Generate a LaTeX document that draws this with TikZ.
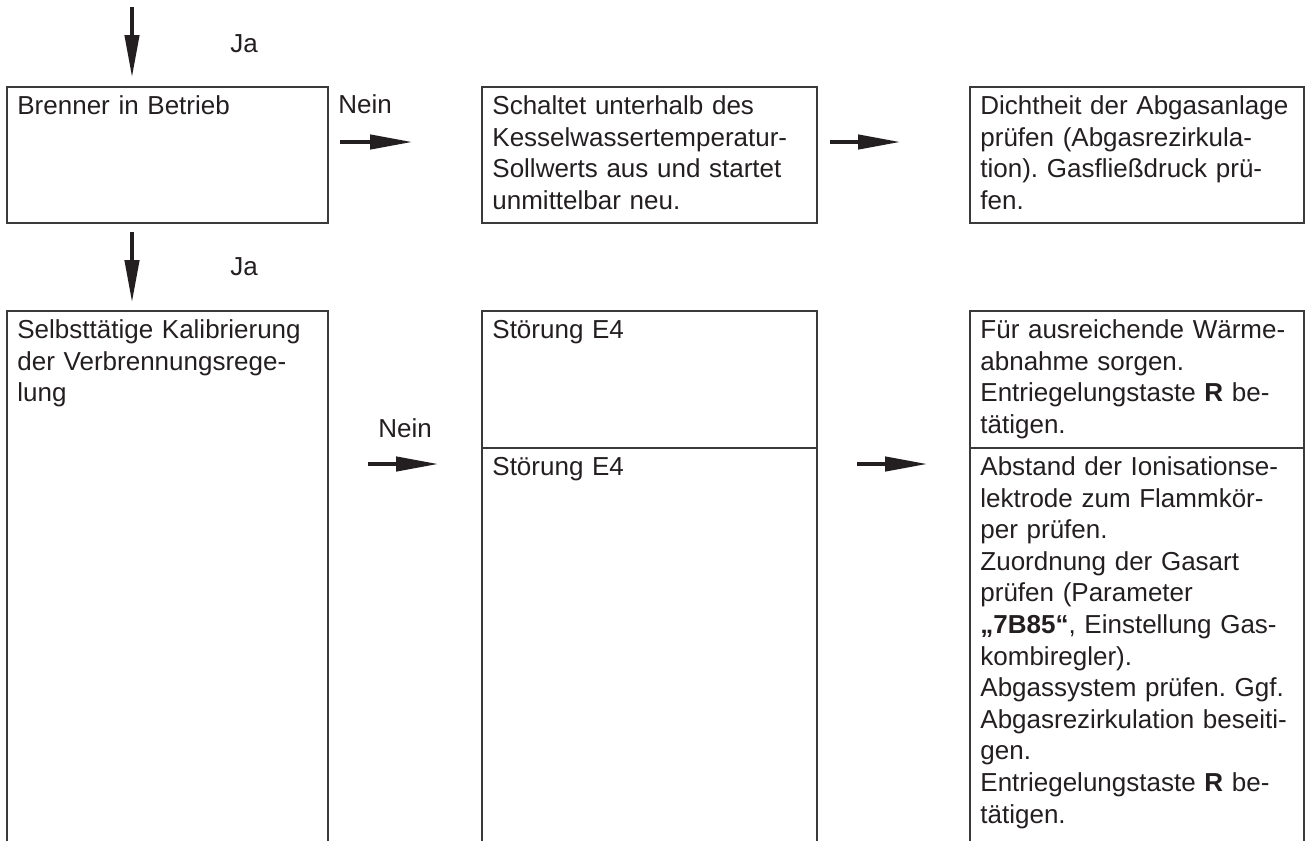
\documentclass[tikz,border=0pt]{standalone}
\usepackage{fontspec}
\setmainfont{Liberation Sans}
\frenchspacing
\usetikzlibrary{arrows.meta}
\definecolor{ink}{HTML}{231F20}
\definecolor{rim}{HTML}{3A3A3A}
\begin{document}
\begin{tikzpicture}[x=0.5pt,y=-0.5pt,
  boxline/.style={draw=rim,line width=0.75pt},
  txt/.style={anchor=north west,inner sep=0pt,align=left,text width=170pt,text=ink,font=\fontsize{13}{15.8}\selectfont},
  lbl/.style={anchor=base west,inner sep=0pt,text=ink,font=\fontsize{13}{15.8}\selectfont},
  flow/.style={draw=ink,line width=1.6pt,-{Triangle[length=21pt,width=7.2pt]}}]
\useasboundingbox (0,0) rectangle (1309,841);
\draw[boxline] (7,87) rectangle (328,223);
\draw[boxline] (482,87) rectangle (817,223);
\draw[boxline] (970,87) rectangle (1304,223);
\draw[boxline] (7,841) |- (328,311) -- (328,841);
\draw[boxline] (482,841) |- (817,311) -- (817,841);
\draw[boxline] (970,841) |- (1304,311) -- (1304,841);
\draw[boxline] (482,448) -- (817,448);
\draw[boxline] (970,448) -- (1304,448);
\node[txt] (brenner) at (17,92) {\strut Brenner in Betrieb};
\node[txt] (schaltet) at (492,92) {\strut Schaltet unterhalb des\\Kesselwassertemperatur-\\Sollwerts aus und startet\\unmittelbar neu.};
\node[txt] (dichtheit) at (980,92) {\strut Dichtheit der Abgasanlage\\prüfen (Abgasrezirkula-\\tion). Gasfließdruck prü-\\fen.};
\node[txt] (kalib) at (17,316) {\strut Selbsttätige Kalibrierung\\der Verbrennungsrege-\\lung};
\node[txt] (stoerA) at (492,316) {\strut Störung E4};
\node[txt] (stoerB) at (492,453) {\strut Störung E4};
\node[txt] (waerme) at (980,316) {\strut Für ausreichende Wärme-\\abnahme sorgen.\\Entriegelungstaste \textbf{R} be-\\tätigen.};
\node[txt] (abstand) at (980,453) {\strut Abstand der Ionisationse-\\lektrode zum Flammkör-\\per prüfen.\\Zuordnung der Gasart\\prüfen (Parameter\\\textbf{„7B85“}, Einstellung Gas-\\kombiregler).\\Abgassystem prüfen. Ggf.\\Abgasrezirkulation beseiti-\\gen.\\Entriegelungstaste \textbf{R} be-\\tätigen.};
\node[lbl] (ja1) at (230,52) {Ja};
\node[lbl] (ja2) at (230,275) {Ja};
\node[lbl] (nein1) at (338,113) {Nein};
\node[lbl] (nein2) at (378,437) {Nein};
\coordinate (inS) at (132,7);
\coordinate (inE) at (132,77);
\coordinate (downS) at (132,232);
\coordinate (downE) at (132,302);
\coordinate (n1S) at (340,142);
\coordinate (n1E) at (412,142);
\coordinate (d1S) at (830,142);
\coordinate (d1E) at (900,142);
\coordinate (n2S) at (368,464);
\coordinate (n2E) at (438,464);
\coordinate (d2S) at (857,464);
\coordinate (d2E) at (927,464);
\draw[flow] (inS) -- (inE);
\draw[flow] (downS) -- (downE);
\draw[flow] (n1S) -- (n1E);
\draw[flow] (d1S) -- (d1E);
\draw[flow] (n2S) -- (n2E);
\draw[flow] (d2S) -- (d2E);
\end{tikzpicture}
\end{document}
